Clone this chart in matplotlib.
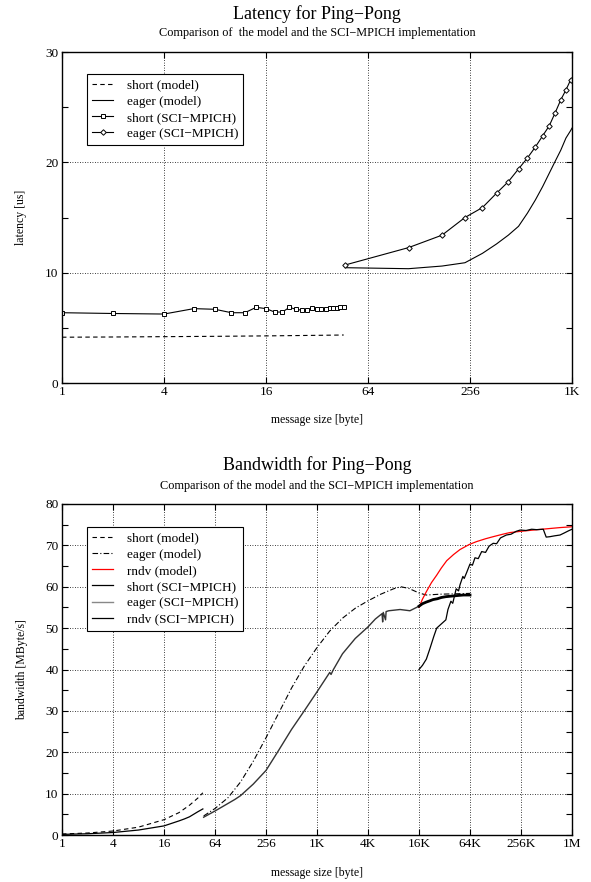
import matplotlib
matplotlib.use('Agg')
import matplotlib.pyplot as plt
from matplotlib.ticker import FixedLocator, FixedFormatter

plt.rcParams['font.family'] = ['Liberation Serif', 'DejaVu Serif']

# ---------------- Latency data ----------------
lat_short_model_x = [1, 2, 4, 8, 16, 32, 46]
lat_short_model_y = [4.15, 4.17, 4.2, 4.23, 4.27, 4.32, 4.35]

lat_eager_model_x = [47, 111, 175, 239, 303, 367, 431, 495, 559, 623, 687, 751, 815, 879, 943, 1007, 1024]
lat_eager_model_y = [10.45, 10.36, 10.6, 10.9, 11.75, 12.6, 13.4, 14.2, 15.4, 16.6, 17.8, 19.0, 20.1, 21.1, 22.2, 22.9, 23.1]

lat_short_sci_x = [1, 2, 4, 6, 8, 10, 12, 14, 16, 18, 20, 22, 24, 26, 28, 30, 32, 34, 36, 38, 40, 42, 44, 46]
lat_short_sci_y = [6.37, 6.3, 6.25, 6.74, 6.68, 6.37, 6.37, 6.86, 6.74, 6.43, 6.43, 6.86, 6.68, 6.6,
                   6.6, 6.8, 6.74, 6.68, 6.68, 6.8, 6.8, 6.8, 6.86, 6.92]

lat_eager_sci_x = [47, 111, 175, 239, 303, 367, 431, 495, 559, 623, 687, 751, 815, 879, 943, 1007]
lat_eager_sci_y = [10.7, 12.27, 13.4, 15.0, 15.9, 17.2, 18.25, 19.4, 20.4, 21.4, 22.4, 23.3, 24.5, 25.66, 26.56, 27.5]

lat_xticks = [1, 4, 16, 64, 256, 1024]
lat_xticklabels = ['1', '4', '16', '64', '256', '1K']

# ---------------- Bandwidth data ----------------
bw_short_model_x = [1, 2, 4, 8, 16, 24, 32, 40, 46]
bw_short_model_y = [0.24, 0.48, 0.96, 1.9, 3.7, 5.4, 7.2, 8.9, 10.2]

bw_eager_model_x = [47, 64, 91, 128, 181, 256, 362, 512, 724, 1024, 1448, 2048, 2896, 4096, 5793, 8192,
                    10000, 12400, 16384, 20000, 29000, 45000, 65536]
bw_eager_model_y = [4.6, 6.4, 9.0, 12.8, 17.8, 23.5, 29.5, 35.5, 40.8, 45.3, 49.3, 52.4, 54.8, 56.6, 58.2, 59.5,
                    60.0, 59.6, 58.5, 58.0, 58.2, 58.3, 58.4]

bw_rndv_model_x = [16384, 18000, 20000, 23000, 26500, 30000, 34800, 42000, 50000, 64000, 78000, 100000,
                   123000, 160000, 194000, 262144, 366000, 524288, 757000, 1048576]
bw_rndv_model_y = [55.0, 57.0, 58.8, 61.0, 62.8, 64.5, 66.3, 67.8, 69.0, 70.2, 70.9, 71.6,
                   72.1, 72.7, 73.1, 73.4, 73.7, 74.0, 74.3, 74.5]

bw_short_sci_x = [1, 2, 4, 8, 16, 24, 28, 32, 40, 46]
bw_short_sci_y = [0.15, 0.3, 0.6, 1.2, 2.2, 3.4, 3.9, 4.4, 5.6, 6.3]

bw_eager_sci_x = [47, 64, 110, 128, 181, 256, 362, 512, 724, 1024, 1448, 1500, 1600, 2048, 2896, 4096,
                  5000, 6000, 6100, 6200, 6600, 6700, 7200, 8000, 9800, 12800, 16384, 18000, 20000, 22000,
                  24000, 27000, 30000, 34000, 38000, 43000, 48000, 55000, 65536]
bw_eager_sci_y = [4.3, 5.8, 8.6, 9.5, 12.3, 15.6, 20.5, 25.5, 30.0, 34.6, 39.3, 38.8, 40.0, 43.8, 47.5, 50.3,
                  52.2, 53.5, 51.5, 53.8, 52.0, 54.0, 54.2, 54.3, 54.5, 54.2, 55.3, 55.9, 56.3, 56.6,
                  56.9, 57.1, 57.4, 57.6, 57.7, 57.8, 57.9, 58.0, 58.0]

bw_rndv_sci_x = [16384, 18000, 20000, 22000, 24500, 26500, 30000, 34000, 36000, 39000, 41000, 45000, 48000,
                 50000, 54000, 56000, 60000, 65536, 70000, 75000, 82000, 90000, 100000, 110000, 123000,
                 135000, 150000, 176000, 200000, 230000, 256000, 300000, 350000, 400000, 480000, 520000,
                 575000, 650000, 757000, 850000, 950000, 1048576]
bw_rndv_sci_y = [40.0, 41.0, 42.5, 45.0, 48.0, 50.0, 51.0, 52.0, 54.5, 56.5, 56.0, 59.5, 59.0,
                 60.5, 62.5, 62.0, 63.5, 65.5, 65.2, 67.0, 66.8, 68.5, 68.3, 69.8, 70.5,
                 70.4, 71.8, 72.5, 72.7, 73.4, 73.7, 73.6, 73.9, 73.8, 73.9, 72.0,
                 72.1, 72.3, 72.5, 73.0, 73.5, 73.9]

bw_xticks = [1, 4, 16, 64, 256, 1024, 4096, 16384, 65536, 262144, 1048576]
bw_xticklabels = ['1', '4', '16', '64', '256', '1K', '4K', '16K', '64K', '256K', '1M']

MINUS = '\u2212'
W, H = 591, 882
fig = plt.figure(figsize=(W / 100, H / 100), dpi=100)

TICK_FS = 9.5
LEG_FS = 9.5
LAB_FS = 8.5
TITLE_FS = 13
SUB_FS = 8.8


def style_axes(ax, xticks, xlabels, ymax, ymajor, yminor):
    ax.set_xscale('log', base=2)
    ax.set_xlim(xticks[0], xticks[-1])
    ax.set_ylim(0, ymax)
    ax.xaxis.set_major_locator(FixedLocator(xticks))
    ax.xaxis.set_major_formatter(FixedFormatter(xlabels))
    ax.xaxis.set_minor_locator(FixedLocator([]))
    ax.yaxis.set_major_locator(FixedLocator(ymajor))
    ax.yaxis.set_minor_locator(FixedLocator(yminor))
    ax.tick_params(which='both', direction='in', top=True, right=True, labelsize=TICK_FS, pad=2.5)
    ax.tick_params(which='major', length=4, width=0.8)
    ax.tick_params(which='minor', length=4, width=0.8)
    ax.grid(True, which='major', linestyle=(0, (1, 2)), color='black', linewidth=0.6)
    for s in ax.spines.values():
        s.set_linewidth(1.0)


def make_legend(ax, anchor):
    leg = ax.legend(loc='upper left', bbox_to_anchor=anchor, borderaxespad=0, fontsize=LEG_FS,
                    fancybox=False, edgecolor='black', framealpha=1, handlelength=1.6, handletextpad=1.0,
                    labelspacing=0.3, borderpad=0.4)
    leg.get_frame().set_linewidth(0.8)
    return leg


# ---------- Top: latency ----------
ax1 = fig.add_axes([62 / W, 1 - 383 / H, 510 / W, 331 / H])
style_axes(ax1, lat_xticks, lat_xticklabels, 30, [0, 10, 20, 30], [5, 15, 25])
ax1.plot(lat_short_model_x, lat_short_model_y, color='black', lw=0.8, ls=(0, (4, 3)), label='short (model)')
ax1.plot(lat_eager_model_x, lat_eager_model_y, color='black', lw=0.8, label='eager (model)')
ax1.plot(lat_short_sci_x, lat_short_sci_y, color='black', lw=0.8, marker='s', markersize=2.8,
         markerfacecolor='white', markeredgewidth=0.7, label='short (SCI' + MINUS + 'MPICH)')
ax1.plot(lat_eager_sci_x, lat_eager_sci_y, color='black', lw=0.8, marker='D', markersize=2.8,
         markerfacecolor='white', markeredgewidth=0.7, label='eager (SCI' + MINUS + 'MPICH)')
make_legend(ax1, (0.049, 0.9335))

fig.text(317 / W, 1 - 14 / H, 'Latency for Ping' + MINUS + 'Pong', ha='center', va='center', fontsize=TITLE_FS)
fig.text(317 / W, 1 - 33 / H, 'Comparison of  the model and the SCI' + MINUS + 'MPICH implementation',
         ha='center', va='center', fontsize=SUB_FS)
fig.text(21 / W, 1 - 217 / H, 'latency [us]', ha='center', va='center', rotation=90, fontsize=LAB_FS)
fig.text(317 / W, 1 - 420 / H, 'message size [byte]', ha='center', va='center', fontsize=LAB_FS)

# ---------- Bottom: bandwidth ----------
ax2 = fig.add_axes([62 / W, 1 - 835 / H, 510 / W, 331 / H])
style_axes(ax2, bw_xticks, bw_xticklabels, 80, list(range(0, 81, 10)), list(range(5, 80, 10)))
ax2.plot(bw_short_model_x, bw_short_model_y, color='black', lw=0.8, ls=(0, (4, 3)), label='short (model)')
ax2.plot(bw_eager_model_x, bw_eager_model_y, color='black', lw=0.8, ls=(0, (5, 2, 1, 2)), label='eager (model)')
ax2.plot(bw_rndv_model_x, bw_rndv_model_y, color='red', lw=0.9, label='rndv (model)')
ax2.plot(bw_short_sci_x, bw_short_sci_y, color='black', lw=0.9, label='short (SCI' + MINUS + 'MPICH)')
ax2.plot(bw_eager_sci_x, bw_eager_sci_y, color='#333333', lw=1.0, label='eager (SCI' + MINUS + 'MPICH)')
i16 = bw_eager_sci_x.index(16384)
ax2.plot(bw_eager_sci_x[i16:], bw_eager_sci_y[i16:], color='black', lw=2.0)
ax2.plot(bw_rndv_sci_x, bw_rndv_sci_y, color='black', lw=0.9, label='rndv (SCI' + MINUS + 'MPICH)')
leg2 = make_legend(ax2, (0.049, 0.9305))
leg2.get_lines()[4].set_color('#888888')

fig.text(317 / W, 1 - 465 / H, 'Bandwidth for Ping' + MINUS + 'Pong', ha='center', va='center', fontsize=TITLE_FS)
fig.text(317 / W, 1 - 486 / H, 'Comparison of the model and the SCI' + MINUS + 'MPICH implementation',
         ha='center', va='center', fontsize=SUB_FS)
fig.text(22 / W, 1 - 670 / H, 'bandwidth [MByte/s]', ha='center', va='center', rotation=90, fontsize=LAB_FS)
fig.text(317 / W, 1 - 873 / H, 'message size [byte]', ha='center', va='center', fontsize=LAB_FS)

fig.savefig('out.png', dpi=100)
